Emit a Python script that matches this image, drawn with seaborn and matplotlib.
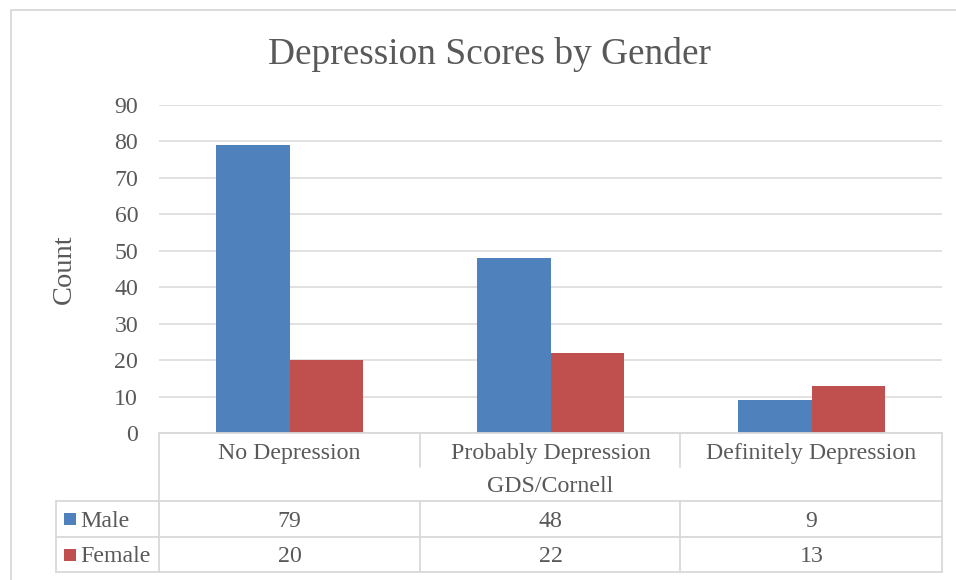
import matplotlib
matplotlib.use("Agg")
import matplotlib.pyplot as plt
from matplotlib.lines import Line2D
from matplotlib.patches import Rectangle
from matplotlib.transforms import blended_transform_factory
import pandas as pd
import seaborn as sns

# Chart data
categories = ["No Depression", "Probably Depression", "Definitely Depression"]
genders = ["Male", "Female"]
male_counts = [79, 48, 9]
female_counts = [20, 22, 13]
y_ticks = [0, 10, 20, 30, 40, 50, 60, 70, 80, 90]

title = "Depression Scores by Gender"
x_title = "GDS/Cornell"
y_title = "Count"

colors = ["#4F81BD", "#C0504D"]
text_color = "#595959"
line_color = "#D9D9D9"

sns.set_style("white")
plt.rcParams["font.family"] = ["Liberation Serif", "DejaVu Serif"]

W, H = 956, 580
fig = plt.figure(figsize=(W / 100, H / 100), dpi=100)

# Plot area in pixel layout
left, right, top, bottom = 159, 942, 105, 433
ax = fig.add_axes([left / W, (H - bottom) / H, (right - left) / W, (bottom - top) / H])

df = pd.DataFrame({
    "category": categories * 2,
    "gender": [genders[0]] * 3 + [genders[1]] * 3,
    "count": male_counts + female_counts,
})

sns.barplot(data=df, x="category", y="count", hue="gender", order=categories,
            hue_order=genders, palette=colors, saturation=1, width=0.567,
            linewidth=0, legend=False, ax=ax, errorbar=None)

fs = 17.2
ax.set_xlim(-0.5, len(categories) - 0.5)
ax.set_ylim(0, 90)
ax.set_yticks(y_ticks)
ax.set_yticklabels([str(t) for t in y_ticks], fontsize=fs, color=text_color)
ax.tick_params(axis="y", length=0, pad=15)
ax.set_xticks([])
ax.set_xlabel("")
ax.set_ylabel(y_title, fontsize=20.5, color=text_color, labelpad=27)
ax.yaxis.grid(True, color=line_color, linewidth=1.1)
ax.set_axisbelow(True)
for s in ax.spines.values():
    s.set_visible(False)

fig.text(490 / W, 1 - 55 / H, title, ha="center", va="center",
         fontsize=26.9, color=text_color)


# Pixel helpers for the data table below the axis
def fx(px):
    return px / W


def fy(py):
    return 1 - py / H


def hline(y, x0, x1):
    fig.add_artist(Line2D([fx(x0), fx(x1)], [fy(y), fy(y)], color=line_color,
                          linewidth=1.3, transform=fig.transFigure))


def vline(x, y0, y1):
    fig.add_artist(Line2D([fx(x), fx(x)], [fy(y0), fy(y1)], color=line_color,
                          linewidth=1.3, transform=fig.transFigure))


# Outer chart border
fig.add_artist(Rectangle((fx(11), fy(590)), fx(960) - fx(11), fy(10) - fy(590),
                         transform=fig.transFigure, fill=False,
                         edgecolor=line_color, linewidth=1.3))

row_tops = [433, 467, 501, 537, 572]
legend_left = 56
col_edges = [159, 420, 680, 942]

hline(row_tops[0], col_edges[0], col_edges[-1])
for y in row_tops[2:]:
    hline(y, legend_left, col_edges[-1])
vline(col_edges[0], row_tops[0], row_tops[-1])
vline(col_edges[-1], row_tops[0], row_tops[-1])
vline(legend_left, row_tops[2], row_tops[-1])
for x in col_edges[1:-1]:
    vline(x, row_tops[0], row_tops[1])
    vline(x, row_tops[2], row_tops[-1])

# Table text aligned with category positions
trans = blended_transform_factory(ax.transData, fig.transFigure)


def mid(i, shift=2.5):
    return fy((row_tops[i] + row_tops[i + 1]) / 2 + shift)


for i, cat in enumerate(categories):
    fig.text(i, mid(0, 3.5), cat, transform=trans, ha="center", va="center",
             fontsize=fs, color=text_color)
    fig.text(i, mid(2), str(male_counts[i]), transform=trans, ha="center",
             va="center", fontsize=fs, color=text_color)
    fig.text(i, mid(3), str(female_counts[i]), transform=trans, ha="center",
             va="center", fontsize=fs, color=text_color)

fig.text((col_edges[0] + col_edges[-1]) / 2 / W, mid(1), x_title, ha="center",
         va="center", fontsize=fs, color=text_color)

# Legend keys inside the table
for k, (g, c) in enumerate(zip(genders, colors)):
    yc = (row_tops[2 + k] + row_tops[3 + k]) / 2
    fig.add_artist(Rectangle((fx(64), fy(yc + 6)), fx(12), 12 / H,
                             transform=fig.transFigure, facecolor=c,
                             edgecolor="none"))
    fig.text(fx(80), fy(yc + 2.5), g, ha="left", va="center", fontsize=fs,
             color=text_color)

fig.savefig("out.png", dpi=100)
